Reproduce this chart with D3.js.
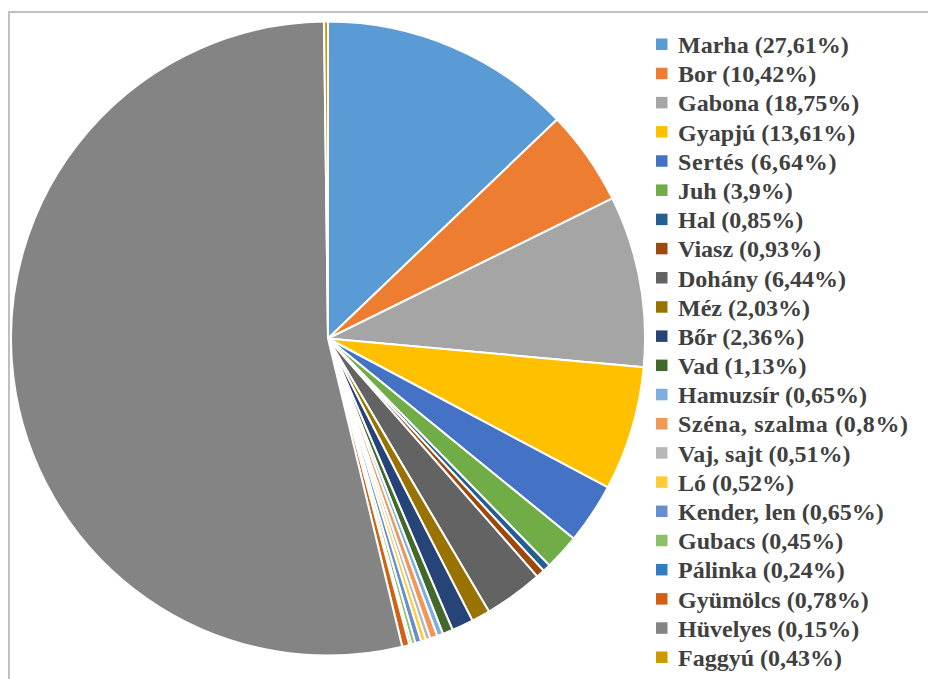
<!DOCTYPE html>
<html>
<head>
<meta charset="utf-8">
<script src="https://cdn.jsdelivr.net/npm/d3@7"></script>
<style>
  body { margin: 0; background: #fff; }
</style>
</head>
<body>
<div id="chart"></div>
<script>
// categories in legend / slice order
var names = ['Marha', 'Bor', 'Gabona', 'Gyapjú', 'Sertés', 'Juh', 'Hal', 'Viasz', 'Dohány', 'Méz', 'Bőr', 'Vad',
  'Hamuzsír', 'Széna, szalma', 'Vaj, sajt', 'Ló', 'Kender, len', 'Gubacs', 'Pálinka', 'Gyümölcs', 'Hüvelyes', 'Faggyú'];
// shares as written in the legend
var shares = ['27,61', '10,42', '18,75', '13,61', '6,64', '3,9', '0,85', '0,93', '6,44', '2,03', '2,36', '1,13',
  '0,65', '0,8', '0,51', '0,52', '0,65', '0,45', '0,24', '0,78', '0,15', '0,43'];
// values the pie is drawn from (Hüvelyes slice is drawn much larger than its label)
var values = [27.61, 10.42, 18.75, 13.61, 6.64, 3.9, 0.85, 0.93, 6.44, 2.03, 2.36, 1.13,
  0.65, 0.8, 0.51, 0.52, 0.65, 0.45, 0.24, 0.78, 115, 0.43];
var colors = ['#5B9BD5', '#ED7D31', '#A5A5A5', '#FFC000', '#4472C4', '#70AD47', '#255E91', '#9E480E', '#636363',
  '#997300', '#264478', '#43682B', '#7CAFDD', '#F1975A', '#B7B7B7', '#FFCD33', '#698ED0', '#8CC168', '#327DC2',
  '#D26012', '#848484', '#CC9A00'];

var width = 928, height = 679;

var svg = d3.select('#chart')
  .append('svg')
    .attr('width', width)
    .attr('height', height);

// chart frame (runs off the right and bottom)
svg.append('rect')
  .attr('x', 9)
  .attr('y', 12)
  .attr('width', 1000)
  .attr('height', 1000)
  .style('fill', 'none')
  .style('stroke', '#bfbfbf')
  .style('stroke-width', 2);

var cx = 328, cy = 338.5, r = 317;

var pie = d3.pie().sort(null).value(function(d) { return d; });
var arc = d3.arc().innerRadius(0).outerRadius(r);
var color = d3.scaleOrdinal().domain(names).range(colors);

svg.append('g')
    .attr('transform', 'translate(' + cx + ',' + cy + ')')
  .selectAll('path')
  .data(pie(values))
  .enter().append('path')
    .attr('d', arc)
    .style('fill', function(d, i) { return color(names[i]); })
    .style('stroke', '#fff')
    .style('stroke-width', 2);

// legend
var y = d3.scalePoint().domain(names).range([45, 658]);
var spaced = ['Sertés', 'Széna, szalma'];

var items = svg.append('g')
  .selectAll('g')
  .data(names)
  .enter().append('g')
    .attr('transform', function(d) { return 'translate(0,' + y(d) + ')'; });

items.append('rect')
  .attr('x', 656)
  .attr('y', -6.5)
  .attr('width', 11.5)
  .attr('height', 11.5)
  .style('fill', function(d) { return color(d); });

items.append('text')
  .attr('x', 678)
  .attr('y', 8)
  .style('fill', '#404040')
  .style('font-family', "'Liberation Serif', 'Times New Roman', serif")
  .style('font-weight', 'bold')
  .style('font-size', '24px')
  .style('letter-spacing', function(d) { return spaced.indexOf(d) >= 0 ? '0.6px' : null; })
  .text(function(d, i) { return d + ' (' + shares[i] + '%)'; });
</script>
</body>
</html>
